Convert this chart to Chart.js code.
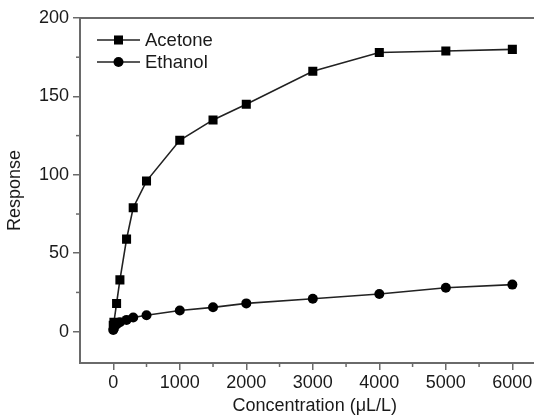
<!DOCTYPE html>
<html>
<head>
<meta charset="utf-8">
<script src="https://cdn.jsdelivr.net/npm/chart.js@4.4.1/dist/chart.umd.min.js"></script>
<style>
  html, body { margin: 0; padding: 0; background: #fff; overflow: hidden; }
  /* plot runs past the right edge of the window, like the cropped figure */
  #wrap { width: 556px; height: 417px; position: relative; }
</style>
</head>
<body>
<div id="wrap"><canvas id="responseChart"></canvas></div>
<script>
// concentration (uL/L) and sensor response
const acetoneConc = [0, 10, 50, 100, 200, 300, 500, 1000, 1500, 2000, 3000, 4000, 5000, 6000];
const acetoneResp = [4, 6, 18, 33, 59, 79, 96, 122, 135, 145, 166, 178, 179, 180];
const ethanolConc = [0, 10, 50, 100, 200, 300, 500, 1000, 1500, 2000, 3000, 4000, 5000, 6000];
const ethanolResp = [1, 2, 4.5, 6, 7.5, 9, 10.5, 13.5, 15.5, 18, 21, 24, 28, 30];

const xMajor = [0, 1000, 2000, 3000, 4000, 5000, 6000];
const xMinor = [500, 1500, 2500, 3500, 4500, 5500, 6500];
const yMajor = [0, 50, 100, 150, 200];
const yMinor = [25, 75, 125, 175];

const axisColor = '#6a6a6a';
const fontFamily = "'Liberation Sans', Arial, sans-serif";

function toPoints(xs, ys) {
  return xs.map((x, i) => ({ x: x, y: ys[i] }));
}

// top frame line, minor ticks and the legend inside the plot
const extras = {
  id: 'extras',
  afterDraw(chart) {
    const ctx = chart.ctx;
    const a = chart.chartArea;
    const xs = chart.scales.x, ys = chart.scales.y;
    ctx.save();
    ctx.strokeStyle = axisColor;
    ctx.lineWidth = 2;
    ctx.beginPath();
    ctx.moveTo(a.left - 1, a.top);
    ctx.lineTo(chart.width, a.top);
    ctx.stroke();

    ctx.lineWidth = 1.5;
    xMinor.forEach(v => {
      const px = xs.getPixelForValue(v);
      ctx.beginPath();
      ctx.moveTo(px, a.bottom);
      ctx.lineTo(px, a.bottom + 4);
      ctx.stroke();
    });
    yMinor.forEach(v => {
      const py = ys.getPixelForValue(v);
      ctx.beginPath();
      ctx.moveTo(a.left, py);
      ctx.lineTo(a.left - 4, py);
      ctx.stroke();
    });

    chart.data.datasets.forEach((ds, i) => {
      const y = a.top + 22 + i * 22;
      const x0 = a.left + 17, x1 = x0 + 43, cx = (x0 + x1) / 2;
      ctx.strokeStyle = ds.borderColor;
      ctx.lineWidth = ds.borderWidth;
      ctx.beginPath();
      ctx.moveTo(x0, y);
      ctx.lineTo(x1, y);
      ctx.stroke();
      ctx.fillStyle = ds.pointBackgroundColor;
      ctx.beginPath();
      if (ds.pointStyle === 'rect') {
        const s = ds.pointRadius * Math.SQRT1_2;
        ctx.rect(cx - s, y - s, 2 * s, 2 * s);
      } else {
        ctx.arc(cx, y, ds.pointRadius, 0, Math.PI * 2);
      }
      ctx.fill();
      ctx.fillStyle = '#1a1a1a';
      ctx.font = '18.5px ' + fontFamily;
      ctx.textBaseline = 'middle';
      ctx.fillText(ds.label, x1 + 5, y + 1);
    });
    ctx.restore();
  }
};

const chart = new Chart(document.getElementById('responseChart'), {
  type: 'line',
  data: {
    datasets: [{
      label: 'Acetone',
      data: toPoints(acetoneConc, acetoneResp),
      borderColor: '#222',
      borderWidth: 1.6,
      pointStyle: 'rect',
      pointRadius: 6.4,
      pointBackgroundColor: '#000',
      pointBorderColor: '#000',
      pointBorderWidth: 0
    }, {
      label: 'Ethanol',
      data: toPoints(ethanolConc, ethanolResp),
      borderColor: '#222',
      borderWidth: 1.6,
      pointStyle: 'circle',
      pointRadius: 5,
      pointBackgroundColor: '#000',
      pointBorderColor: '#000',
      pointBorderWidth: 0
    }]
  },
  options: {
    responsive: true,
    maintainAspectRatio: false,
    animation: false,
    layout: { padding: { left: 2, top: 18, right: 0, bottom: 0 } },
    plugins: {
      legend: { display: false },
      tooltip: { enabled: false }
    },
    scales: {
      x: {
        type: 'linear',
        min: -500,
        max: 6560,
        afterBuildTicks: s => { s.ticks = xMajor.map(v => ({ value: v })); },
        afterFit: s => { s.height = 54; },
        grid: { drawOnChartArea: false, tickLength: 7, color: axisColor, lineWidth: 1.5 },
        border: { color: axisColor, width: 2 },
        ticks: {
          color: '#1a1a1a', padding: 2, maxRotation: 0,
          font: { family: fontFamily, size: 18 },
          callback: v => String(v)
        },
        title: {
          display: true,
          text: 'Concentration (μL/L)',
          color: '#1a1a1a',
          padding: { top: 0, bottom: 0 },
          font: { family: fontFamily, size: 18 }
        }
      },
      y: {
        min: -20,
        max: 200,
        afterBuildTicks: s => { s.ticks = yMajor.map(v => ({ value: v })); },
        afterFit: s => { s.width = 78; },
        grid: { drawOnChartArea: false, tickLength: 7, color: axisColor, lineWidth: 1.5 },
        border: { color: axisColor, width: 2 },
        ticks: {
          color: '#1a1a1a', padding: 4,
          font: { family: fontFamily, size: 18 },
          callback: v => String(v)
        },
        title: {
          display: true,
          text: 'Response',
          color: '#1a1a1a',
          padding: { top: 2, bottom: 0 },
          font: { family: fontFamily, size: 18 }
        }
      }
    }
  },
  plugins: [extras]
});
</script>
</body>
</html>
